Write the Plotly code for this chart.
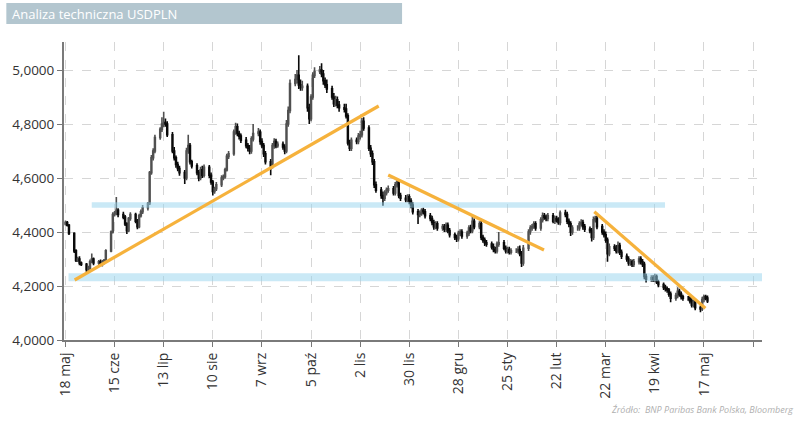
import pandas as pd
import plotly.graph_objects as go

# ---------------- data ----------------
first_open = 4.430
# daily closes, one row per week (Mon-Fri), starting Wed 2022-05-18
close = [
    4.435, 4.425, 4.395,
    4.330, 4.295, 4.300, 4.285, 4.280,
    4.260, 4.265, 4.290, 4.300, 4.285,
    4.290, 4.280, 4.290, 4.295, 4.330,
    4.400, 4.465, 4.470, 4.480, 4.465,
    4.455, 4.430, 4.405, 4.450, 4.465,
    4.440, 4.420, 4.460, 4.475, 4.490,
    4.505, 4.620, 4.675, 4.700, 4.750,
    4.780, 4.800, 4.805, 4.800, 4.760,
    4.700, 4.675, 4.650, 4.635, 4.620,
    4.600, 4.700, 4.720, 4.660, 4.645,
    4.620, 4.600, 4.630, 4.610, 4.640,
    4.610, 4.585, 4.550, 4.560, 4.575,
    4.600, 4.605, 4.630, 4.680, 4.690,
    4.770, 4.790, 4.765, 4.755, 4.740,
    4.720, 4.710, 4.700, 4.745, 4.765,
    4.770, 4.735, 4.720, 4.690, 4.660,
    4.645, 4.720, 4.735, 4.720, 4.725,
    4.715, 4.700, 4.800, 4.850, 4.950,
    4.965, 4.980, 4.945, 4.935, 4.940,
    4.860, 4.820, 4.900, 4.980, 4.995,
    5.000, 4.985, 4.960, 4.945, 4.930,
    4.900, 4.875, 4.890, 4.870, 4.860,
    4.855, 4.830, 4.730, 4.710, 4.740,
    4.735, 4.755, 4.760, 4.810, 4.785,
    4.710, 4.690, 4.660, 4.575, 4.555,
    4.535, 4.525, 4.545, 4.555, 4.560,
    4.545, 4.575, 4.585, 4.535, 4.525,
    4.520, 4.530, 4.515, 4.500, 4.475,
    4.465, 4.470, 4.480, 4.475, 4.460,
    4.450, 4.435, 4.420, 4.430, 4.415,
    4.420, 4.410, 4.425, 4.405, 4.390,
    4.380, 4.375, 4.395, 4.400, 4.385,
    4.395, 4.415, 4.405, 4.440, 4.420,
    4.430, 4.380, 4.370, 4.360, 4.355,
    4.345, 4.335, 4.330, 4.355, 4.360,
    4.340, 4.330, 4.335, 4.325, 4.330,
    4.330, 4.335, 4.320, 4.285, 4.340,
    4.400, 4.415, 4.420, 4.430, 4.415,
    4.445, 4.460, 4.455, 4.450, 4.460,
    4.440, 4.450, 4.445, 4.435, 4.470,
    4.465, 4.440, 4.430, 4.400, 4.415,
    4.415, 4.430, 4.435, 4.420, 4.410,
    4.405, 4.380, 4.445, 4.450, 4.420,
    4.400, 4.390, 4.370, 4.320, 4.345,
    4.340, 4.330, 4.350, 4.325, 4.310,
    4.300, 4.285, 4.290, 4.280, 4.290,
    4.300, 4.290, 4.280, 4.235, 4.225,
    4.230, 4.225, 4.235, 4.215, 4.205,
    4.195, 4.190, 4.185, 4.170, 4.155,
    4.165, 4.180, 4.170, 4.160, 4.155,
    4.155, 4.145, 4.130, 4.140, 4.120,
    4.115, 4.150, 4.160, 4.155, 4.145,
]
# upper / lower shadow lengths in thousandths of PLN
upper_wick = [
    8, 6, 5,
    4, 6, 8, 10, 6,
    5, 10, 8, 20, 6,
    6, 8, 6, 5, 6,
    6, 8, 8, 50, 8,
    10, 8, 6, 6, 8,
    6, 8, 8, 8, 10,
    6, 6, 10, 10, 10,
    8, 25, 40, 15, 10,
    10, 15, 8, 10, 10,
    10, 12, 40, 10, 8,
    10, 10, 12, 15, 10,
    8, 10, 8, 8, 10,
    10, 8, 8, 10, 10,
    10, 15, 12, 10, 10,
    12, 10, 12, 10, 35,
    15, 10, 12, 10, 10,
    10, 10, 12, 10, 10,
    10, 10, 15, 15, 15,
    20, 20, 75, 20, 20,
    10, 15, 10, 12, 15,
    15, 25, 15, 12, 20,
    12, 15, 15, 12, 15,
    15, 20, 10, 12, 10,
    10, 12, 15, 12, 15,
    10, 12, 12, 10, 12,
    12, 15, 10, 10, 12,
    10, 10, 10, 10, 10,
    12, 10, 10, 10, 10,
    10, 10, 8, 10, 10,
    10, 10, 10, 10, 10,
    10, 10, 10, 10, 10,
    8, 10, 10, 10, 10,
    10, 10, 12, 20, 10,
    10, 12, 10, 10, 10,
    10, 12, 10, 10, 40,
    10, 10, 10, 10, 10,
    10, 12, 15, 10, 12,
    10, 10, 10, 10, 10,
    10, 12, 10, 10, 10,
    10, 10, 10, 10, 10,
    12, 10, 10, 10, 10,
    10, 10, 12, 10, 10,
    10, 10, 12, 10, 10,
    10, 10, 12, 10, 12,
    10, 12, 15, 10, 10,
    10, 10, 10, 8, 10,
    10, 10, 10, 10, 10,
    10, 10, 10, 8, 8,
    8, 10, 8, 8, 10,
    10, 15, 10, 10, 8,
    8, 10, 10, 10, 10,
    8, 10, 8, 8, 10,
]
lower_wick = [
    6, 5, 6,
    8, 6, 6, 8, 6,
    8, 6, 5, 6, 8,
    8, 6, 8, 10, 6,
    5, 6, 8, 8, 10,
    8, 8, 12, 6, 8,
    8, 10, 6, 6, 8,
    10, 5, 8, 10, 8,
    8, 10, 12, 10, 8,
    8, 10, 12, 10, 12,
    22, 8, 10, 10, 10,
    10, 12, 8, 10, 8,
    10, 10, 15, 8, 8,
    8, 8, 8, 6, 10,
    8, 10, 10, 12, 10,
    10, 12, 12, 10, 10,
    10, 12, 10, 12, 10,
    35, 10, 12, 10, 8,
    10, 12, 8, 10, 10,
    10, 15, 15, 12, 12,
    15, 20, 10, 10, 10,
    10, 12, 15, 12, 15,
    10, 12, 10, 12, 15,
    12, 10, 10, 10, 10,
    10, 10, 12, 10, 10,
    10, 12, 12, 12, 10,
    12, 28, 10, 10, 10,
    10, 10, 10, 10, 10,
    10, 10, 12, 12, 10,
    35, 10, 10, 10, 10,
    10, 10, 12, 10, 10,
    10, 10, 10, 10, 10,
    10, 12, 10, 10, 10,
    10, 10, 10, 10, 10,
    10, 10, 10, 12, 10,
    10, 10, 10, 10, 10,
    8, 10, 10, 8, 8,
    8, 10, 10, 15, 10,
    10, 10, 10, 8, 10,
    10, 10, 10, 10, 10,
    8, 10, 10, 8, 10,
    10, 10, 12, 15, 10,
    10, 10, 10, 12, 10,
    10, 15, 10, 10, 10,
    10, 10, 10, 30, 10,
    10, 10, 10, 10, 10,
    10, 10, 10, 10, 10,
    10, 10, 10, 10, 12,
    10, 10, 10, 8, 10,
    10, 10, 10, 10, 15,
    10, 10, 10, 10, 10,
    10, 10, 10, 10, 10,
    12, 8, 10, 8, 8,
]

tick_dates = ["2022-05-18", "2022-06-15", "2022-07-13", "2022-08-10", "2022-09-07",
              "2022-10-05", "2022-11-02", "2022-11-30", "2022-12-28", "2023-01-25",
              "2023-02-22", "2023-03-22", "2023-04-19", "2023-05-17", "2023-06-14"]
tick_labels = ["18 maj", "15 cze", "13 lip", "10 sie", "7 wrz", "5 paź", "2 lis",
               "30 lis", "28 gru", "25 sty", "22 lut", "22 mar", "19 kwi", "17 maj", ""]

# support / resistance bands
band_levels = [4.500, 4.232]
band_start = ["2022-06-02 00:00", "2022-05-19 18:00"]
band_end = ["2023-04-24 19:00", "2023-06-19 02:00"]
band_width_px = [5.5, 8]

# trend lines
trend_x0 = ["2022-05-23 06:00", "2022-11-18 00:00", "2023-03-15 12:00"]
trend_y0 = [4.2222, 4.6111, 4.4752]
trend_x1 = ["2022-11-12 14:00", "2023-02-14 19:00", "2023-05-17 19:00"]
trend_y1 = [4.8667, 4.3333, 4.1174]

# ---------------- build ----------------
dates = pd.bdate_range("2022-05-18", periods=len(close))
opens = [first_open] + close[:-1]
highs = [max(o, c) + u / 1000 for o, c, u in zip(opens, close, upper_wick)]
lows = [min(o, c) - l / 1000 for o, c, l in zip(opens, close, lower_wick)]

W, H = 800, 421
ML, MR, MT, MB = 60, 38, 42, 81
PW, PH = W - ML - MR, H - MT - MB


def px_x(p):
    return (p - ML) / PW


def px_y(p):
    return (H - MB - p) / PH


FONT = "Open Sans"

fig = go.Figure()
fig.add_trace(go.Candlestick(
    x=dates, open=opens, high=highs, low=lows, close=close,
    increasing=dict(line=dict(color="#505050", width=1.6), fillcolor="#9a9a9a"),
    decreasing=dict(line=dict(color="#0a0a0a", width=1.6), fillcolor="#0a0a0a"),
    whiskerwidth=0, showlegend=False, hoverinfo="skip",
))

for lvl, x0, x1, wpx in zip(band_levels, band_start, band_end, band_width_px):
    fig.add_trace(go.Scatter(
        x=[x0, x1], y=[lvl, lvl], mode="lines",
        line=dict(color="rgba(150,212,238,0.5)", width=wpx),
        showlegend=False, hoverinfo="skip"))

for x0, y0, x1, y1 in zip(trend_x0, trend_y0, trend_x1, trend_y1):
    fig.add_trace(go.Scatter(
        x=[x0, x1], y=[y0, y1], mode="lines",
        line=dict(color="#f6b23c", width=3.2),
        showlegend=False, hoverinfo="skip"))

# header bar
fig.add_shape(type="rect", xref="paper", yref="paper",
              x0=px_x(2), x1=px_x(400), y0=px_y(24), y1=px_y(3),
              fillcolor="#b3c6cf", line=dict(width=0), layer="below")
fig.add_annotation(xref="paper", yref="paper", x=px_x(6), y=px_y(13.5),
                   xanchor="left", yanchor="middle", showarrow=False,
                   text="Analiza techniczna USDPLN",
                   font=dict(family=FONT, size=13, color="#ffffff"))
fig.add_annotation(xref="paper", yref="paper", x=px_x(795), y=px_y(409),
                   xanchor="right", yanchor="middle", showarrow=False,
                   text="<i>Źródło:  BNP Paribas Bank Polska, Bloomberg</i>",
                   font=dict(family=FONT, size=9, color="#b0b0b0"))

fig.update_layout(
    width=W, height=H,
    margin=dict(l=ML, r=MR, t=MT, b=MB),
    paper_bgcolor="white", plot_bgcolor="white",
    separators=", ",
    font=dict(family=FONT, size=13, color="#333333"),
    xaxis=dict(
        type="date", range=["2022-05-17 04:00", "2023-06-19 02:00"],
        tickvals=tick_dates, ticktext=tick_labels, tickangle=-90,
        showgrid=True, gridcolor="#d6d6d6", griddash="dash", gridwidth=1,
        ticks="outside", ticklen=5, tickcolor="#777777",
        showline=True, linecolor="#7a7a7a", linewidth=2,
        rangeslider=dict(visible=False), zeroline=False,
        tickfont=dict(family=FONT, size=14, color="#333333"),
    ),
    yaxis=dict(
        range=[4.0, 5.1037], tick0=4.0, dtick=0.2, tickformat=".4f",
        showgrid=True, gridcolor="#d6d6d6", griddash="dash", gridwidth=1,
        ticks="outside", ticklen=5, tickcolor="#777777",
        showline=True, linecolor="#7a7a7a", linewidth=2, zeroline=False,
        tickfont=dict(family=FONT, size=13.5, color="#333333"),
    ),
)

fig.write_html("out.html")
